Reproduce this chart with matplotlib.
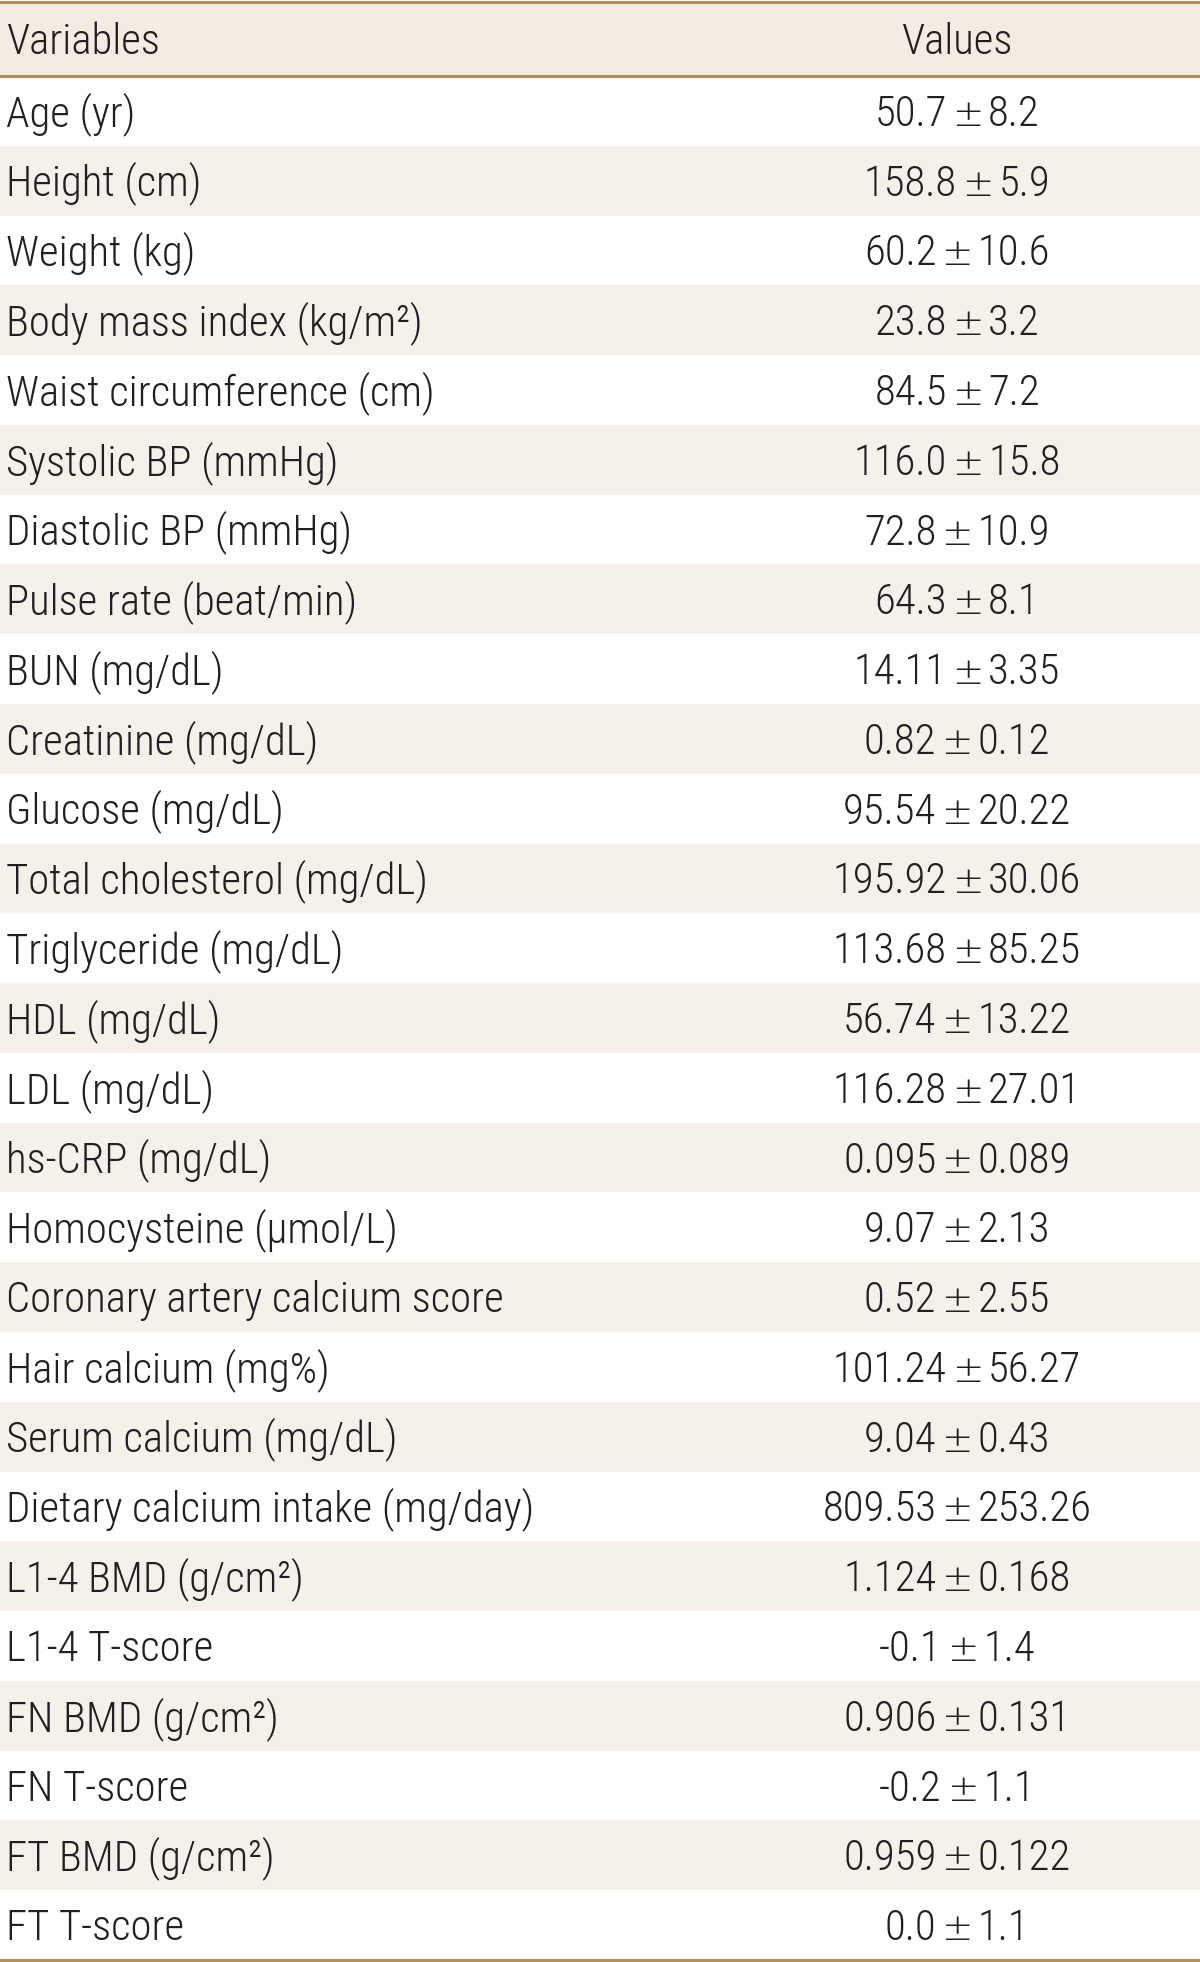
import matplotlib.pyplot as plt
from matplotlib import font_manager

# Table content
header = ["Variables", "Values"]
variables = [
    "Age (yr)", "Height (cm)", "Weight (kg)", "Body mass index (kg/m\u00b2)",
    "Waist circumference (cm)", "Systolic BP (mmHg)", "Diastolic BP (mmHg)",
    "Pulse rate (beat/min)", "BUN (mg/dL)", "Creatinine (mg/dL)",
    "Glucose (mg/dL)", "Total cholesterol (mg/dL)", "Triglyceride (mg/dL)",
    "HDL (mg/dL)", "LDL (mg/dL)", "hs-CRP (mg/dL)", "Homocysteine (\u03bcmol/L)",
    "Coronary artery calcium score", "Hair calcium (mg%)",
    "Serum calcium (mg/dL)", "Dietary calcium intake (mg/day)",
    "L1-4 BMD (g/cm\u00b2)", "L1-4 T-score", "FN BMD (g/cm\u00b2)", "FN T-score",
    "FT BMD (g/cm\u00b2)", "FT T-score",
]
means = ["50.7", "158.8", "60.2", "23.8", "84.5", "116.0", "72.8", "64.3",
         "14.11", "0.82", "95.54", "195.92", "113.68", "56.74", "116.28",
         "0.095", "9.07", "0.52", "101.24", "9.04", "809.53", "1.124", "-0.1",
         "0.906", "-0.2", "0.959", "0.0"]
sds = ["8.2", "5.9", "10.6", "3.2", "7.2", "15.8", "10.9", "8.1",
       "3.35", "0.12", "20.22", "30.06", "85.25", "13.22", "27.01",
       "0.089", "2.13", "2.55", "56.27", "0.43", "253.26", "0.168", "1.4",
       "0.131", "1.1", "0.122", "1.1"]

names = {f.name for f in font_manager.fontManager.ttflist}
family = "Liberation Sans Narrow"
for cand in ["Liberation Sans Narrow", "Roboto Condensed", "Roboto"]:
    if cand in names:
        family = cand
        break
plt.rcParams['font.family'] = [family, 'DejaVu Sans']

W, H = 1200, 1962
top, head_bot, bottom = 2, 76, 1960
row_h = (bottom - head_bot) / len(variables)
shade = "#f5f0ea"
head_shade = "#f3ece2"
line_col = "#b58d59"
text_col = "#231f20"
fs = 30.8
wt = 'light'

fig = plt.figure(figsize=(W / 100, H / 100), dpi=100)
ax = fig.add_axes([0, 0, 1, 1])
ax.set_xlim(0, W)
ax.set_ylim(H, 0)
ax.axis('off')
renderer = fig.canvas.get_renderer()

# header band
ax.axhspan(top, head_bot, color=head_shade, lw=0)
cap = 15
ax.text(6, (top + head_bot) / 2 + cap, header[0], fontsize=fs, color=text_col,
        ha='left', va='baseline', weight=wt)
ax.text(957, (top + head_bot) / 2 + cap, header[1], fontsize=fs, color=text_col,
        ha='center', va='baseline', weight=wt)

xc = 957
gap = 5
for i, (v, m, s) in enumerate(zip(variables, means, sds)):
    y0 = head_bot + i * row_h
    if i % 2 == 1:
        ax.axhspan(y0, y0 + row_h, color=shade, lw=0)
    yc = y0 + row_h / 2 + cap
    ax.text(6, yc, v, fontsize=fs, color=text_col, ha='left', va='baseline',
            weight=wt)
    # value: mean, plus-minus sign, sd as one centred group
    tm = ax.text(0, yc, m, fontsize=fs, color=text_col, ha='left',
                 va='baseline', weight=wt)
    tp = ax.text(0, yc, "\u00b1", fontsize=27, color=text_col, ha='left',
                 va='baseline', family='DejaVu Sans', weight='light')
    ts = ax.text(0, yc, s, fontsize=fs, color=text_col, ha='left',
                 va='baseline', weight=wt)
    wm = tm.get_window_extent(renderer).width
    wp = tp.get_window_extent(renderer).width
    ws = ts.get_window_extent(renderer).width
    total = wm + gap + wp + gap + ws
    x = xc - total / 2
    tm.set_x(x)
    tp.set_x(x + wm + gap)
    ts.set_x(x + wm + gap + wp + gap)

for y in (top, head_bot, bottom):
    ax.axhline(y, color=line_col, lw=2.2)

fig.savefig("out.png", dpi=100)
